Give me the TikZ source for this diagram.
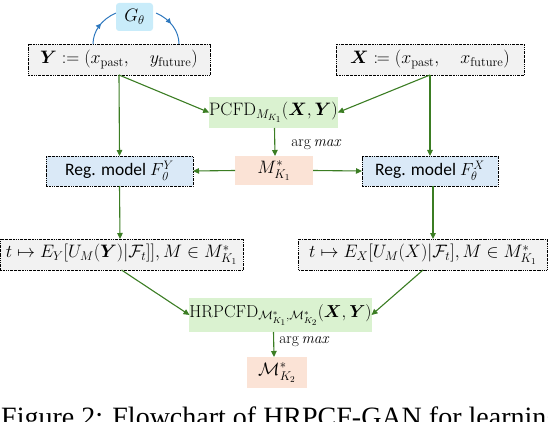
\RequirePackage{fix-cm}
\documentclass[tikz,border=0pt]{standalone}
\usepackage{amsmath,amssymb,mathtools}
\usepackage{fontspec}
\newfontfamily\regfont{Carlito}
\newfontfamily\capfont{Liberation Serif}
\usetikzlibrary{arrows.meta,decorations.markings}
\definecolor{gfill}{HTML}{F2F2F2}
\definecolor{grfill}{HTML}{DAF2D0}
\definecolor{pfill}{HTML}{FBE3D6}
\definecolor{rfill}{HTML}{DAE9F7}
\definecolor{gbfill}{HTML}{C9ECFA}
\definecolor{agreen}{HTML}{3B7D23}
\definecolor{ablue}{HTML}{2E78BE}
\newcommand\mathfs{\fontsize{18}{21}\selectfont}
\newcommand\hrfs{\fontsize{17.3}{20}\selectfont}
\newcommand\regfs{\regfont\fontsize{17.5}{21}\selectfont}
\newcommand\lblfs{\fontsize{15.5}{17}\selectfont}
\tikzset{
  basebox/.style={inner sep=0pt, outer sep=0pt},
  graybox/.style={basebox, fill=gfill, draw=black, line width=0.5pt,
    dash pattern=on 1.6pt off 0.9pt on 0.4pt off 0.9pt, font=\mathfs},
  greenbox/.style={basebox, fill=grfill, font=\mathfs},
  peachbox/.style={basebox, fill=pfill, font=\mathfs},
  regbox/.style={basebox, fill=rfill, draw=black, line width=0.5pt,
    dash pattern=on 1.6pt off 0.9pt on 0.4pt off 0.9pt, font=\regfs},
  gbox/.style={basebox, fill=gbfill, rounded corners=3pt, font=\mathfs},
  arr/.style={draw=agreen, line width=1.1pt, -{Triangle[length=6pt,width=5.5pt]}},
  bluearc/.style={draw=ablue, line width=1pt},
  lbl/.style={font=\lblfs, inner sep=0pt},
}
\begin{document}
\begin{tikzpicture}[x=1pt,y=-1pt]
\useasboundingbox (0,0) rectangle (548,422);
% top boxes
\node[graybox, minimum width=182pt, minimum height=31pt] (Y) at (119,59.5)
  {$\boldsymbol{Y} := (x_{\mathrm{past}},\quad y_{\mathrm{future}})$};
\node[graybox, minimum width=188pt, minimum height=31pt] (X) at (430,59.5)
  {$\boldsymbol{X} \coloneqq (x_{\mathrm{past}},\quad x_{\mathrm{future}})$};
% arcs around G
\draw[bluearc, postaction={decorate}, decoration={markings,
   mark=at position 0.55 with {\arrow{Triangle[length=5pt,width=5pt]}}}]
  ([xshift=-26pt]Y.north) arc[start angle=180, end angle=118, x radius=43pt, y radius=35pt];
\draw[bluearc, postaction={decorate}, decoration={markings,
   mark=at position 0.55 with {\arrowreversed{Triangle[length=5pt,width=5pt]}}}]
  ([xshift=60pt]Y.north) arc[start angle=0, end angle=62, x radius=43pt, y radius=35pt];
\node[gbox, minimum width=37pt, minimum height=28pt] (G) at (134.5,17) {$G_\theta$};
% middle
\node[greenbox, minimum width=125pt, minimum height=31pt] (P) at (273.5,112.5)
  {$\mathrm{PCFD}_{M_{K_1}}(\boldsymbol{X},\boldsymbol{Y})$};
\node[peachbox, minimum width=78pt, minimum height=29pt] (M1) at (274,170.5)
  {$M^{*}_{K_1}$};
\node[regbox, minimum width=147pt, minimum height=30pt] (RY) at (119.5,171)
  {Reg. model $F_{\mathit{0}}^{Y}$};
\node[regbox, minimum width=136pt, minimum height=30pt] (RX) at (430,171)
  {Reg. model $F_{\theta}^{X}$};
\node[lbl] (L1) at (316,145) {$\arg \mathit{max}$};
% expectation boxes
\node[graybox, minimum width=243pt, minimum height=31pt] (EY) at (121.5,254.5)
  {$t \mapsto E_Y[U_M(\boldsymbol{Y})|\mathcal{F}_t]], M \in M^{*}_{K_1}$};
\node[graybox, minimum width=249pt, minimum height=31pt] (EX) at (423,254.5)
  {$t \mapsto E_X[U_M(X)|\mathcal{F}_t], M \in M^{*}_{K_1}$};
% bottom
\node[greenbox, minimum width=179pt, minimum height=34pt, font=\hrfs] (H) at (280.5,315)
  {$\mathrm{HRPCFD}_{\mathcal{M}^{*}_{K_1},\mathcal{M}^{*}_{K_2}}(\boldsymbol{X},\boldsymbol{Y})$};
\node[peachbox, minimum width=60pt, minimum height=31pt] (M2) at (277,372.5)
  {$\mathcal{M}^{*}_{K_2}$};
\node[lbl] (L2) at (304,342) {$\arg \mathit{max}$};
% arrows
\draw[arr] (Y.south) -- (RY.north);
\draw[arr] (Y.south) -- (P.west);
\draw[arr] (X.south) -- (RX.north);
\draw[arr] (X.south) -- (P.east);
\draw[arr] ([xshift=1pt]P.south) -- ([xshift=1pt]M1.north);
\draw[arr] (M1.west) -- (RY.east);
\draw[arr] (M1.east) -- (RX.west);
\draw[arr] (RY.south) -- ([xshift=-1.5pt]EY.north);
\draw[arr] ([xshift=3pt]RX.south) -- ([xshift=10pt]EX.north);
\draw[arr] (EY.south) -- (H.west);
\draw[arr] (EX.south) -- (H.east);
\draw[arr] ([xshift=-7pt]H.south) -- ([xshift=-3pt]M2.north);
% caption (cut off at the bottom edge)
\begin{scope}
\clip (0,0) rectangle (548,422);
\node[inner sep=0pt, anchor=base west, font=\capfont\fontsize{28}{31}\selectfont] (cap) at (1,426.5)
  {Figure 2: Flowchart of HRPCF-GAN for learning};
\end{scope}
\end{tikzpicture}
\end{document}
